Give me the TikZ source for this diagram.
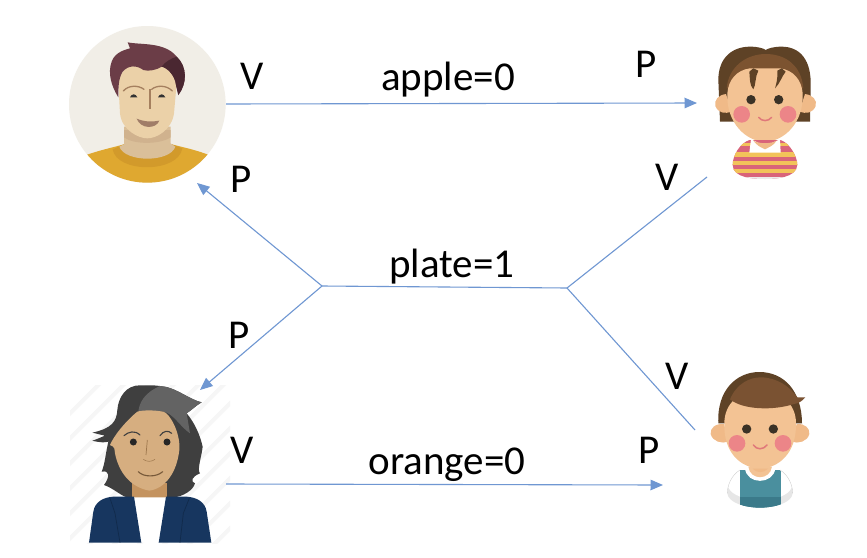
\documentclass[tikz,border=0pt]{standalone}
\usepackage{fontspec}
\setmainfont{Carlito}
\usetikzlibrary{arrows.meta}
\definecolor{linkblue}{HTML}{6F97D2}
\definecolor{mbg}{HTML}{F1EEE7}
\definecolor{mshirt}{HTML}{DFA830}
\definecolor{mcollar}{HTML}{D29A2B}
\definecolor{mneck}{HTML}{DABF99}
\definecolor{mshade}{HTML}{D0B28E}
\definecolor{mface}{HTML}{EBD1A8}
\definecolor{mhair}{HTML}{6B3D47}
\definecolor{mhairdk}{HTML}{4A2731}
\definecolor{mbrow}{HTML}{A5805F}
\definecolor{mmouth}{HTML}{A07D68}
\definecolor{kskin}{HTML}{F3C394}
\definecolor{kear}{HTML}{F0BA88}
\definecolor{kcheek}{HTML}{EC8588}
\definecolor{kmouth}{HTML}{E0787A}
\definecolor{keye}{HTML}{3A3226}
\definecolor{khair}{HTML}{5E4226}
\definecolor{khairb}{HTML}{7C5330}
\definecolor{stripea}{HTML}{D9647A}
\definecolor{stripeb}{HTML}{F2C35A}
\definecolor{bhair}{HTML}{7A5232}
\definecolor{bhairdk}{HTML}{5E4226}
\definecolor{bvest}{HTML}{4A8F9E}
\definecolor{bvestdk}{HTML}{3B7A8A}
\definecolor{sleeve}{HTML}{E6E6E6}
\definecolor{whair}{HTML}{3F3F3F}
\definecolor{whairb}{HTML}{636363}
\definecolor{wface}{HTML}{D6AE80}
\definecolor{wneck}{HTML}{C4935F}
\definecolor{wcoat}{HTML}{17365F}
\definecolor{wcoatdk}{HTML}{112A4B}
\definecolor{wstripe}{HTML}{F6F6F6}
\tikzset{
  link/.style={draw=linkblue,line width=1.1pt},
  arrowlink/.style={link,-{Triangle[length=12.5pt,width=10.5pt]}},
  lab/.style={font=\fontsize{41}{43}\selectfont,text=black,inner sep=0pt,anchor=center},
  zoomed/.style={x=0.33333pt,y=-0.33333pt}
}
\begin{document}
\begin{tikzpicture}[x=1pt,y=-1pt]
\useasboundingbox (0,0) rectangle (867,557);
\fill[white] (0,0) rectangle (867,557);

% ---------- man, top left
\begin{scope}[shift={(50,10)},zoomed]
  \fill[mbg] (292,283) circle[radius=235];
  \begin{scope}
    \clip (292,283) circle[radius=235];
    \fill[mshirt] (100,438) .. controls (150,420) and (190,412) .. (222,403) -- (365,403) .. controls (400,412) and (440,420) .. (485,438) -- (485,530) -- (100,530) -- cycle;
  \end{scope}
  \fill[mcollar] (188,418) .. controls (200,490) and (385,490) .. (397,415) -- (365,403) -- (222,403) -- cycle;
  \fill[mneck] (222,350) -- (222,403) -- (208,410) .. controls (225,458) and (360,458) .. (376,410) -- (362,400) -- (362,350) -- cycle;
  \fill[mshade] (222,360) -- (222,382) .. controls (250,404) and (330,404) .. (362,382) -- (362,360) -- cycle;
  \fill[mface] (205,220) -- (210,310) .. controls (215,360) and (265,385) .. (292,385) .. controls (320,385) and (365,360) .. (372,310) -- (380,220) .. controls (380,190) and (340,150) .. (292,150) .. controls (240,150) and (205,190) .. (205,220) -- cycle;
  \fill[mhair] (205,262) .. controls (185,230) and (172,190) .. (185,155) .. controls (195,125) and (230,118) .. (240,115) -- (233,97) .. controls (270,105) and (345,95) .. (380,140) .. controls (412,170) and (412,220) .. (385,255) -- (378,225) .. controls (375,195) and (350,172) .. (335,170) .. controls (320,180) and (295,185) .. (280,180) .. controls (260,165) and (235,165) .. (218,185) .. controls (205,205) and (205,235) .. (205,262) -- cycle;
  \fill[mhairdk] (335,170) .. controls (345,155) and (365,145) .. (380,140) .. controls (412,170) and (412,220) .. (385,255) -- (378,225) .. controls (375,195) and (350,172) .. (335,170) -- cycle;
  \draw[mbrow,line width=1.3pt,line cap=round] (220,243) .. controls (235,225) and (265,225) .. (282,238);
  \draw[mbrow,line width=1.3pt,line cap=round] (305,238) .. controls (320,225) and (350,225) .. (367,243);
  \draw[mbrow,line width=2.2pt] (300,238) -- (300,296);
  \fill[black!80] (240,262) .. controls (245,250) and (257,250) .. (262,262) -- cycle;
  \fill[black!80] (324,262) .. controls (329,250) and (341,250) .. (346,262) -- cycle;
  \fill[mmouth] (260,326) .. controls (285,336) and (305,336) .. (328,332) .. controls (318,358) and (272,358) .. (260,326) -- cycle;
\end{scope}

% ---------- child, top right
\begin{scope}[shift={(690,30)},zoomed]
  \fill[khair] (85,150) .. controls (85,80) and (130,50) .. (180,50) .. controls (205,50) and (220,55) .. (227,60) .. controls (235,55) and (250,50) .. (275,50) .. controls (330,50) and (365,90) .. (362,170) -- (360,275) -- (90,275) -- cycle;
  \fill[khairb] (110,175) .. controls (115,110) and (170,72) .. (227,72) .. controls (290,72) and (335,110) .. (340,175) -- cycle;
  \fill[kear] (108,192) .. controls (85,195) and (72,210) .. (76,228) .. controls (85,250) and (105,252) .. (125,245) -- cycle;
  \fill[kear] (345,192) .. controls (368,195) and (382,210) .. (377,228) .. controls (368,250) and (348,252) .. (328,245) -- cycle;
  \fill[kskin] (112,190) .. controls (115,150) and (140,120) .. (180,115) -- (270,115) .. controls (310,120) and (335,150) .. (338,190) .. controls (342,280) and (280,335) .. (225,335) .. controls (170,335) and (108,280) .. (112,190) -- cycle;
  \fill[khair] (178,125) .. controls (180,145) and (178,165) .. (190,178) .. controls (198,165) and (195,140) .. (205,122) -- (190,115) -- cycle;
  \fill[khair] (262,122) .. controls (264,145) and (258,165) .. (255,175) .. controls (270,160) and (275,140) .. (287,125) -- (275,115) -- cycle;
  \fill[keye] (183,209) circle[radius=14];
  \fill[keye] (266,209) circle[radius=14];
  \fill[kcheek] (155,253) circle[radius=25];
  \fill[kcheek] (294,253) circle[radius=25];
  \draw[kmouth,line width=1.5pt,line cap=round] (206,262) .. controls (215,275) and (235,275) .. (245,262);
  % pullover
  \begin{scope}
    \clip (178,330) -- (272,330) .. controls (300,340) and (322,380) .. (322,405) .. controls (320,445) and (250,447) .. (225,447) .. controls (195,447) and (128,445) .. (128,405) .. controls (128,375) and (150,340) .. (178,330) -- cycle;
    \fill[stripea] (120,320) rectangle (330,450);
    \fill[stripeb] (120,338) rectangle (330,348);
    \fill[stripeb] (120,366) rectangle (330,380);
    \fill[stripeb] (120,394) rectangle (330,406);
    \fill[stripeb] (120,418) rectangle (330,430);
    \fill[white!92!black] (120,440) rectangle (330,450);
  \end{scope}
  \fill[white] (183,328) -- (178,368) -- (272,368) -- (270,328) -- (225,348) -- cycle;
  \fill[kear] (190,332) .. controls (205,342) and (245,342) .. (260,332) .. controls (250,348) and (235,352) .. (225,358) .. controls (212,352) and (200,346) .. (190,332) -- cycle;
\end{scope}

% ---------- woman, bottom left
\begin{scope}[shift={(60,370)},zoomed]
  \begin{scope}
    \clip (30,45) rectangle (510,520);
    \foreach \k in {-4,...,9}{
      \draw[wstripe,line width=4pt] (\k*75-100,560) -- ++(600,-600);
    }
  \end{scope}
  \fill[whair] (240,46) .. controls (200,45) and (175,80) .. (172,120) .. controls (170,155) and (155,175) .. (97,188) .. controls (115,192) and (125,195) .. (135,197) .. controls (115,205) and (105,210) .. (97,212) .. controls (120,218) and (135,218) .. (145,215) .. controls (135,260) and (135,280) .. (125,305) .. controls (150,300) and (150,320) .. (132,345) .. controls (160,355) and (180,375) .. (200,382) -- (340,382) .. controls (370,380) and (400,360) .. (405,340) .. controls (390,335) and (395,320) .. (420,310) .. controls (410,300) and (425,260) .. (428,230) .. controls (420,195) and (405,160) .. (380,130) .. controls (395,120) and (410,105) .. (425,97) .. controls (390,90) and (345,50) .. (300,48) .. controls (280,45) and (260,46) .. (240,46) -- cycle;
  \fill[whairb] (300,48) .. controls (345,50) and (390,90) .. (425,97) .. controls (410,105) and (395,120) .. (380,130) -- (390,190) .. controls (360,170) and (340,130) .. (310,125) .. controls (280,122) and (255,122) .. (235,125) .. controls (238,100) and (250,70) .. (300,48) -- cycle;
  \fill[wneck] (215,340) rectangle (322,385);
  \fill[wface] (232,125) .. controls (195,155) and (160,200) .. (150,225) .. controls (165,230) and (165,240) .. (165,250) .. controls (175,300) and (205,350) .. (268,362) .. controls (315,355) and (350,310) .. (358,240) .. controls (362,190) and (330,130) .. (310,125) .. controls (280,120) and (250,120) .. (232,125) -- cycle;
  \draw[whair,line width=1.1pt,line cap=round] (192,197) .. controls (205,185) and (225,180) .. (240,195);
  \draw[whair,line width=1.1pt,line cap=round] (300,197) .. controls (310,182) and (325,180) .. (335,190);
  \fill[black!85] (220,216) circle[radius=10.5];
  \fill[black!85] (321,216) circle[radius=10.5];
  \draw[wneck!80!black,line width=.7pt] (262,210) -- (258,255);
  \draw[wneck!80!black,line width=.5pt] (250,268) .. controls (260,276) and (275,276) .. (285,268);
  \draw[wneck!60!black,line width=1.1pt,line cap=round] (235,305) .. controls (250,322) and (290,322) .. (308,305);
  \fill[white] (222,382) -- (318,382) -- (296,518) -- (244,518) -- cycle;
  \fill[wcoat] (87,518) -- (100,425) .. controls (105,395) and (130,382) .. (160,380) -- (222,380) -- (244,518) -- cycle;
  \fill[wcoat] (454,518) -- (440,425) .. controls (435,395) and (410,382) .. (380,380) -- (318,380) -- (296,518) -- cycle;
  \draw[wcoatdk,line width=.7pt] (150,385) -- (165,430) -- (180,518);
  \draw[wcoatdk,line width=.7pt] (388,385) -- (370,430) -- (360,518);
\end{scope}

% ---------- child, bottom right
\begin{scope}[shift={(690,360)},zoomed]
  \fill[bhairdk] (85,190) .. controls (80,90) and (140,36) .. (208,36) .. controls (280,36) and (335,90) .. (336,190) -- cycle;
  \fill[kear] (102,192) .. controls (75,190) and (60,205) .. (62,222) .. controls (68,245) and (95,252) .. (115,245) -- cycle;
  \fill[kear] (320,192) .. controls (345,190) and (360,205) .. (358,222) .. controls (352,245) and (325,252) .. (305,245) -- cycle;
  \fill[kskin] (103,190) .. controls (103,130) and (150,90) .. (210,90) .. controls (270,90) and (318,130) .. (318,190) .. controls (320,280) and (265,325) .. (210,325) .. controls (155,325) and (100,280) .. (103,190) -- cycle;
  \fill[bhair] (120,118) .. controls (140,70) and (180,52) .. (212,52) .. controls (260,52) and (300,80) .. (322,112) -- (346,112) .. controls (335,125) and (325,130) .. (312,132) .. controls (250,152) and (160,150) .. (120,118) -- cycle;
  % pullover
  \begin{scope}
    \clip (150,330) .. controls (125,345) and (112,375) .. (112,400) .. controls (115,430) and (170,443) .. (210,443) .. controls (250,443) and (305,430) .. (308,400) .. controls (308,375) and (295,345) .. (270,330) -- cycle;
    \fill[sleeve] (100,320) rectangle (320,450);
    \fill[white] (100,320) .. controls (110,385) and (115,395) .. (150,410) -- (272,410) .. controls (305,395) and (310,385) .. (320,320) -- cycle;
    \fill[bvest] (150,320) rectangle (272,450);
    \fill[bvestdk] (150,410) rectangle (272,450);
  \end{scope}
  \draw[black!20,line width=.3pt] (150,330) .. controls (125,345) and (112,375) .. (112,400);
  \draw[black!20,line width=.3pt] (270,330) .. controls (295,345) and (308,375) .. (308,400);
  \fill[white] (165,325) .. controls (170,375) and (250,375) .. (256,325) -- cycle;
  \fill[kskin] (175,320) .. controls (180,362) and (240,362) .. (246,320) -- cycle;
  \fill[kear] (188,326) .. controls (200,340) and (220,340) .. (234,326) -- cycle;
  \fill[keye] (170,207) circle[radius=14];
  \fill[keye] (250,207) circle[radius=14];
  \fill[kcheek] (141,250) circle[radius=25];
  \fill[kcheek] (279,250) circle[radius=25];
  \draw[kmouth,line width=1.5pt,line cap=round] (190,255) .. controls (200,270) and (220,270) .. (231,255);
\end{scope}

% ---------- connector ends
\coordinate (manout) at (226,104);
\coordinate (kidin) at (697,103);
\coordinate (kidout) at (707,177);
\coordinate (manin) at (197,183);
\coordinate (womanin) at (200,390);
\coordinate (womanout) at (226,484);
\coordinate (boyin) at (663,485);
\coordinate (boyout) at (695,430);
\coordinate (jleft) at (322,286);
\coordinate (jright) at (567,288);

\draw[arrowlink] (manout) -- (kidin);
\draw[arrowlink] (womanout) -- (boyin);
\draw[link] (jleft) -- (jright);
\draw[link] (jright) -- (kidout);
\draw[link] (jright) -- (boyout);
\draw[arrowlink] (jleft) -- (manin);
\draw[arrowlink] (jleft) -- (womanin);

% ---------- labels
\node[lab] (l1) at (252,76) {V};
\node[lab] (l2) at (448,80) {apple=0};
\node[lab] (l3) at (646,64) {P};
\node[lab] (l4) at (241,179) {P};
\node[lab] (l5) at (667,177) {V};
\node[lab] (l6) at (452,267) {plate=1};
\node[lab] (l7) at (239,335) {P};
\node[lab] (l8) at (677,376) {V};
\node[lab] (l9) at (242,450) {V};
\node[lab] (l10) at (447,465) {orange=0};
\node[lab] (l11) at (649,450) {P};
\end{tikzpicture}
\end{document}
